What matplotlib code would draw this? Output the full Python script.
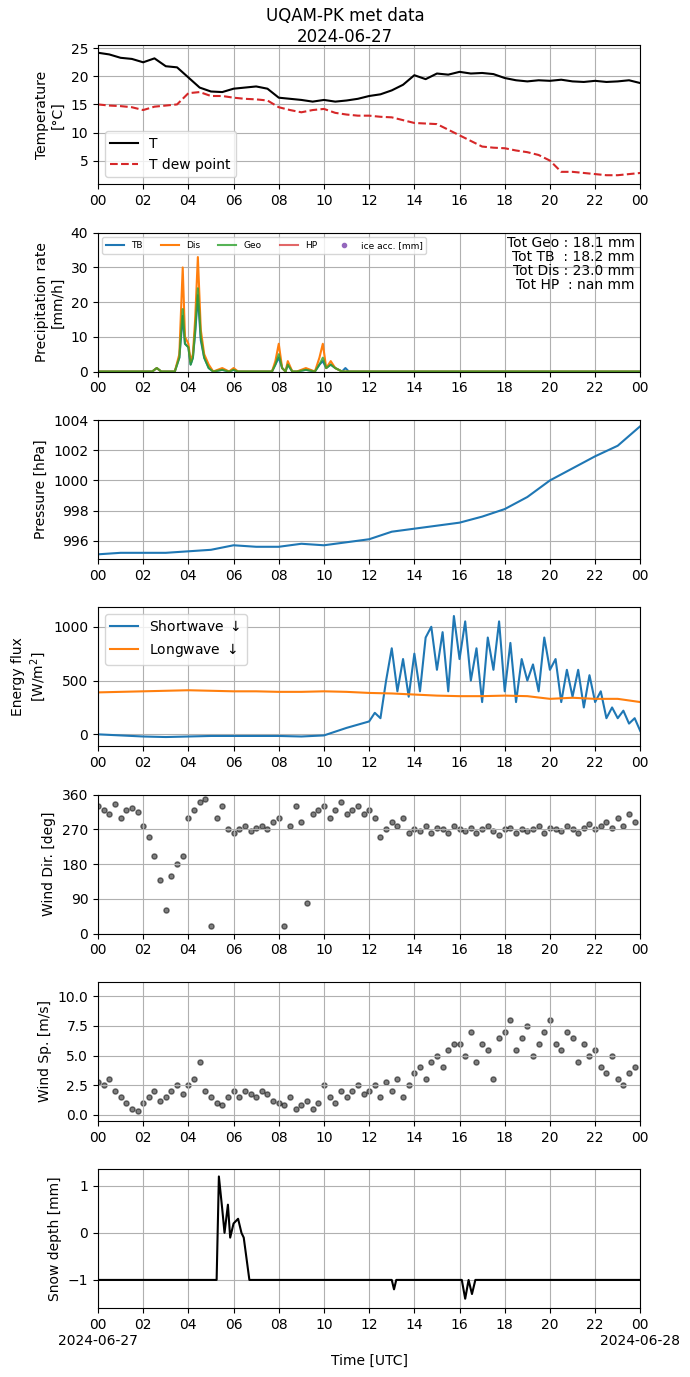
import matplotlib
matplotlib.use("Agg")
import matplotlib.pyplot as plt
import numpy as np

t_half = np.arange(0, 24.01, 0.5)
temp = [24.2,23.9,23.3,23.1,22.5,23.2,21.8,21.6,19.8,18,17.3,17.2,17.8,18,18.2,17.8,16.2,16,15.8,15.5,15.8,15.5,15.7,16,16.5,16.8,17.5,18.5,20.2,19.5,20.5,20.3,20.8,20.5,20.6,20.4,19.7,19.3,19.1,19.3,19.2,19.4,19.1,19,19.2,19,19.1,19.3,18.8]
dew = [15,14.8,14.7,14.5,14,14.6,14.8,15,17,17.2,16.5,16.5,16.2,16,15.9,15.7,14.5,14,13.6,14,14.2,13.5,13.2,13,13,12.8,12.7,12.2,11.7,11.6,11.5,10.5,9.5,8.5,7.5,7.3,7.2,6.8,6.5,6,5,3,3,2.8,2.6,2.4,2.4,2.6,2.8]

t_hour = np.arange(0, 24.01, 1.0)
pres = [995.1,995.2,995.2,995.2,995.3,995.4,995.7,995.6,995.6,995.8,995.7,995.9,996.1,996.6,996.8,997.0,997.2,997.6,998.1,998.9,1000.0,1000.8,1001.6,1002.3,1003.6]
lw = [390,395,400,405,410,405,400,400,395,395,400,395,385,380,370,360,355,355,360,355,330,340,330,330,300]

sw_t = list(range(0, 12)) + list(np.arange(12, 24.01, 0.25))
sw = [0,-10,-20,-25,-20,-15,-15,-15,-15,-20,-10,60,
      120,200,150,500,800,400,700,350,750,400,900,1000,600,950,400,1100,700,1050,500,800,300,900,600,1050,
      400,850,300,700,500,650,400,900,600,700,300,600,350,600,250,550,300,400,150,250,150,220,100,150,30]

p_t = [0,2.4,2.6,2.8,3.0,3.4,3.6,3.75,3.85,4.0,4.1,4.2,4.3,4.42,4.55,4.7,4.9,5.1,5.5,5.8,6.0,6.2,7.7,7.85,8.0,8.15,8.3,8.4,8.6,8.8,9.2,9.6,9.8,9.95,10.1,10.3,10.5,10.8,10.95,11.1,24]
p_dis = [0,0,1,0,0,0,5,30,10,8,3,5,15,33,12,5,2,0,1,0,1,0,0,3,8,1,0,3,0,0,1,0,4,8,1,3,1,0,0,0,0]
p_geo = [0,0,1,0,0,0,4,18,8,7,2,4,12,24,10,4,1,0,0.5,0,0.5,0,0,2,5,1,0,2,0,0,0.5,0,2,4,1,2,1,0,0,0,0]
p_tb = [0,0,1,0,0,0,4,16,8,7,2,4,11,22,9,4,1,0,0.5,0,0.5,0,0,2,4,1,0,2,0,0,0.5,0,2,3,1,2,1,0,1,0,0]

t_q = np.arange(0, 24, 0.25)
wdir = [330,320,310,335,300,320,325,315,
        280,250,200,140,60,150,180,200,
        300,320,340,350, 20,300,330,270,
        260,270,280,265,275,280,270,290,
        300,20,280,330,290,80,310,320,
        330,300,320,340,310,320,330,310,
        320,300,250,270,290,280,300,260,
        270,265,280,260,275,270,260,280,270,265,275,260,270,280,265,255,270,275,260,270,
        265,270,280,260,275,270,265,280,270,260,275,285,270,280,290,275,300,280,310,290]
wsp = [2.8,2.5,3,2,1.5,1,0.5,0.3,1,1.5,2,1.2,1.5,2,2.5,1.8,
       2.5,3,4.5,2,1.5,1,0.8,1.5,2,1.5,2,1.8,1.5,2,1.8,1.2,
       1,0.8,1.5,0.5,0.8,1.2,0.5,1,2.5,1.5,1,2,1.5,2,2.5,1.8,
       2,2.5,1.5,2.8,2,3,1.5,2.5,3.5,4,3,4.5,5,4,5.5,6,
       6,5,7,4.5,6,5.5,3,6.5,7,8,5.5,6.5,7.5,5,6,7,
       8,6,5.5,7,6.5,4.5,6,5,5.5,4,3.5,5,3,2.5,3.5,4]

s_t = [0,5.25,5.35,5.5,5.6,5.75,5.85,6.0,6.2,6.35,6.45,6.7,13.0,13.1,13.2,16.1,16.25,16.4,16.55,16.7,24]
snow = [-1,-1,1.2,0.5,0,0.6,-0.1,0.2,0.3,0,-0.1,-1,-1,-1.2,-1,-1,-1.4,-1.0,-1.3,-1,-1]

xt = list(range(0, 25, 2))
xl = ["%02d" % (h % 24) for h in xt]

fig, axs = plt.subplots(7, 1, figsize=(6.9, 13.77), dpi=100)
fig.subplots_adjust(left=0.142, right=0.928, top=0.967, bottom=0.05, hspace=0.35)
fig.suptitle("UQAM-PK met data\n2024-06-27", y=0.995, fontsize=12)

ax = axs[0]
ax.plot(t_half, temp, color="black", label="T")
ax.plot(t_half, dew, color="tab:red", ls="--", label="T dew point")
ax.set_ylabel("Temperature\n[°C]")
ax.set_ylim(0.8, 25.5)
ax.set_yticks([5, 10, 15, 20, 25])
ax.legend(loc="lower left")

ax = axs[1]
ax.plot(p_t, p_tb, color="tab:blue", label="TB")
ax.plot(p_t, p_dis, color="tab:orange", label="Dis")
ax.plot(p_t, p_geo, color="tab:green", alpha=0.8, label="Geo")
ax.plot([], [], color="tab:red", alpha=0.7, label="HP")
ax.plot([], [], "o", color="tab:purple", ms=3, label="ice acc. [mm]")
ax.set_ylim(0, 40)
ax.set_ylabel("Precipitation rate\n[mm/h]")
ax.legend(loc="upper left", ncol=5, fontsize=6.5)
ax.text(0.99, 0.98, "Tot Geo : 18.1 mm\nTot TB  : 18.2 mm\nTot Dis : 23.0 mm\nTot HP  : nan mm",
        transform=ax.transAxes, ha="right", va="top", fontsize=10, linespacing=1.0)

ax = axs[2]
ax.plot(t_hour, pres, color="tab:blue")
ax.set_ylim(994.8, 1004)
ax.set_yticks([996, 998, 1000, 1002, 1004])
ax.set_ylabel("Pressure [hPa]")

ax = axs[3]
ax.plot(sw_t, sw, color="tab:blue", label="Shortwave $\\downarrow$")
ax.plot(t_hour, lw, color="tab:orange", label="Longwave $\\downarrow$")
ax.set_ylim(-110, 1180)
ax.set_yticks([0, 500, 1000])
ax.set_ylabel("Energy flux\n[W/m$^2$]")
ax.legend(loc="upper left", fontsize=10)

ax = axs[4]
ax.scatter(t_q, wdir, s=14, color="black", alpha=0.5)
ax.set_ylim(0, 360)
ax.set_yticks([0, 90, 180, 270, 360])
ax.set_ylabel("Wind Dir. [deg]")

ax = axs[5]
ax.scatter(t_q, wsp, s=14, color="black", alpha=0.5)
ax.set_ylim(-0.5, 11.2)
ax.set_yticks([0, 2.5, 5, 7.5, 10])
ax.set_ylabel("Wind Sp. [m/s]")

ax = axs[6]
ax.plot(s_t, snow, color="black")
ax.set_ylim(-1.6, 1.35)
ax.set_yticks([-1, 0, 1])
ax.set_ylabel("Snow depth [mm]")
ax.set_xlabel("Time [UTC]")

for i, ax in enumerate(axs):
    ax.set_xlim(0, 24)
    ax.set_xticks(xt)
    if i == 6:
        lab = list(xl)
        lab[0] = "00\n2024-06-27"
        lab[-1] = "00\n2024-06-28"
        ax.set_xticklabels(lab)
    else:
        ax.set_xticklabels(xl)
    ax.grid(True)

fig.savefig("out.png", dpi=100)
